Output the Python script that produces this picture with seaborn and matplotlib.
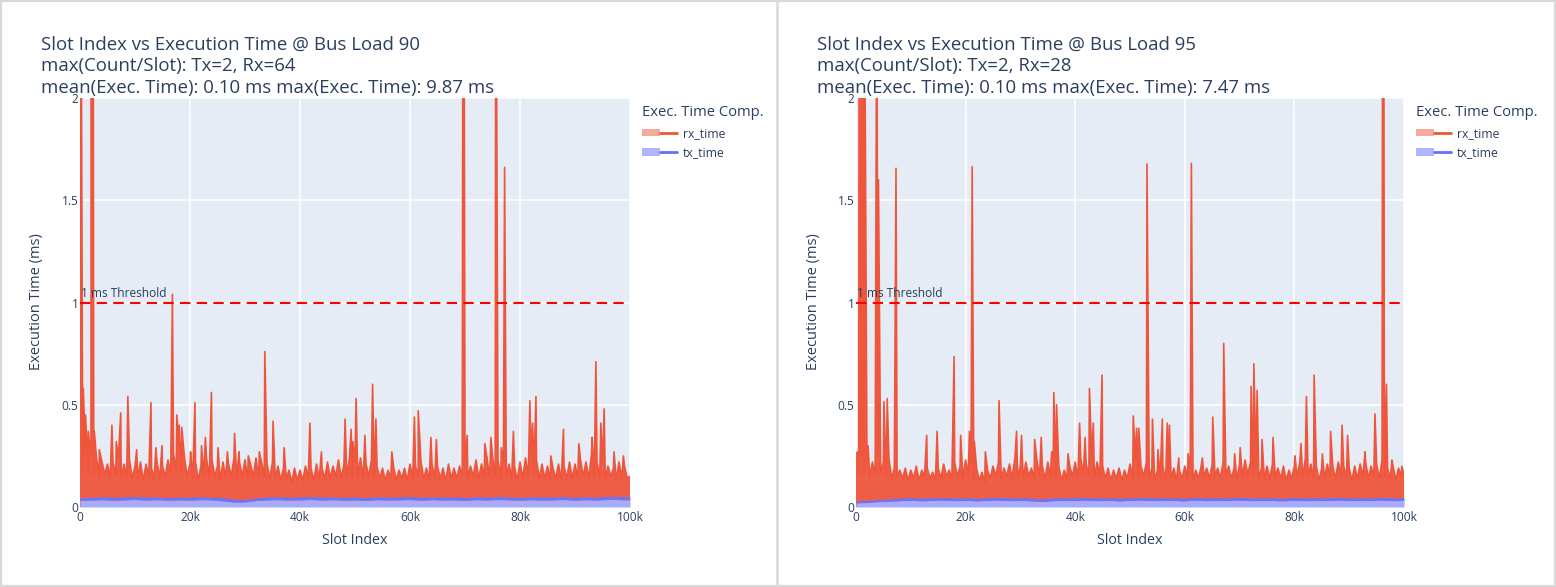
import numpy as np
import pandas as pd
import seaborn as sns
import matplotlib.pyplot as plt
from matplotlib.patches import Patch, Rectangle
from matplotlib.lines import Line2D
from matplotlib.legend_handler import HandlerTuple

# ---- data (stacked top of rx over tx, in ms) ----
# dense texture sampled every 500 slots
base_step = 500
base_bl90 = [
    0.30, 0.18, 0.26, 0.17, 0.25, 0.16, 0.24, 0.15, 0.22, 0.16,
    0.21, 0.14, 0.22, 0.15, 0.24, 0.14, 0.21, 0.15, 0.23, 0.14,
    0.20, 0.14, 0.22, 0.13, 0.21, 0.15, 0.19, 0.14, 0.22, 0.14,
    0.20, 0.15, 0.23, 0.16, 0.26, 0.18, 0.30, 0.17, 0.24, 0.15,
    0.21, 0.14, 0.22, 0.13, 0.20, 0.15, 0.24, 0.14, 0.23, 0.15,
    0.20, 0.13, 0.22, 0.14, 0.21, 0.15, 0.24, 0.14, 0.22, 0.15,
    0.23, 0.14, 0.21, 0.15, 0.24, 0.14, 0.22, 0.15, 0.21, 0.14,
    0.22, 0.14, 0.20, 0.13, 0.19, 0.14, 0.18, 0.12, 0.19, 0.13,
    0.18, 0.13, 0.20, 0.14, 0.19, 0.13, 0.21, 0.14, 0.19, 0.14,
    0.22, 0.14, 0.20, 0.15, 0.23, 0.14, 0.21, 0.15, 0.24, 0.14,
    0.22, 0.15, 0.24, 0.14, 0.21, 0.15, 0.23, 0.14, 0.20, 0.14,
    0.19, 0.13, 0.18, 0.14, 0.20, 0.13, 0.18, 0.14, 0.19, 0.13,
    0.21, 0.14, 0.20, 0.15, 0.22, 0.14, 0.19, 0.13, 0.21, 0.14,
    0.20, 0.14, 0.19, 0.13, 0.21, 0.14, 0.19, 0.14, 0.20, 0.15,
    0.22, 0.14, 0.20, 0.15, 0.23, 0.14, 0.21, 0.15, 0.24, 0.14,
    0.25, 0.15, 0.23, 0.14, 0.22, 0.15, 0.21, 0.14, 0.20, 0.13,
    0.22, 0.14, 0.24, 0.15, 0.26, 0.16, 0.23, 0.14, 0.21, 0.14,
    0.20, 0.13, 0.19, 0.14, 0.21, 0.13, 0.20, 0.14, 0.22, 0.14,
    0.21, 0.14, 0.23, 0.15, 0.22, 0.14, 0.26, 0.15, 0.22, 0.14,
    0.21, 0.14, 0.20, 0.15, 0.19, 0.13, 0.22, 0.14, 0.20, 0.14,
    0.15,
]
base_bl95 = [
    0.26, 0.16, 0.25, 0.17, 0.24, 0.15, 0.22, 0.16, 0.25, 0.17,
    0.22, 0.15, 0.24, 0.14, 0.19, 0.15, 0.18, 0.14, 0.19, 0.13,
    0.18, 0.14, 0.20, 0.13, 0.18, 0.15, 0.19, 0.14, 0.17, 0.13,
    0.19, 0.14, 0.21, 0.15, 0.18, 0.14, 0.22, 0.15, 0.20, 0.14,
    0.23, 0.16, 0.21, 0.14, 0.19, 0.13, 0.17, 0.12, 0.18, 0.14,
    0.20, 0.15, 0.22, 0.14, 0.19, 0.15, 0.21, 0.14, 0.24, 0.15,
    0.20, 0.14, 0.22, 0.15, 0.19, 0.14, 0.23, 0.15, 0.20, 0.14,
    0.22, 0.15, 0.24, 0.14, 0.20, 0.13, 0.18, 0.14, 0.20, 0.15,
    0.22, 0.14, 0.24, 0.16, 0.21, 0.15, 0.25, 0.14, 0.22, 0.15,
    0.20, 0.14, 0.19, 0.13, 0.18, 0.14, 0.19, 0.13, 0.18, 0.14,
    0.21, 0.15, 0.23, 0.14, 0.20, 0.15, 0.22, 0.14, 0.19, 0.13,
    0.18, 0.14, 0.20, 0.13, 0.17, 0.14, 0.19, 0.13, 0.18, 0.14,
    0.20, 0.14, 0.19, 0.13, 0.18, 0.14, 0.20, 0.15, 0.19, 0.14,
    0.21, 0.15, 0.19, 0.14, 0.22, 0.15, 0.20, 0.14, 0.19, 0.13,
    0.21, 0.15, 0.23, 0.16, 0.22, 0.15, 0.20, 0.14, 0.19, 0.14,
    0.20, 0.14, 0.21, 0.15, 0.19, 0.14, 0.20, 0.13, 0.18, 0.14,
    0.20, 0.15, 0.22, 0.14, 0.24, 0.15, 0.21, 0.14, 0.20, 0.13,
    0.19, 0.14, 0.21, 0.15, 0.20, 0.14, 0.22, 0.15, 0.20, 0.14,
    0.19, 0.13, 0.20, 0.14, 0.21, 0.15, 0.22, 0.14, 0.20, 0.15,
    0.21, 0.14, 0.23, 0.15, 0.19, 0.14, 0.20, 0.13, 0.19, 0.15,
    0.16,
]

# individual spikes (slot in k, stacked value in ms)
spike_k_bl90 = [0.2, 0.6, 1.0, 1.5, 2.1, 2.6, 3.5, 5.8, 6.6, 7.4, 8.7, 10.3, 12.9, 13.8,
                14.9, 16.8, 17.6, 18.0, 18.5, 20.1, 20.9, 22.1, 22.8, 23.9, 25.1, 26.8,
                28.1, 28.9, 30.6, 32.6, 33.6, 35.1, 37.1, 41.8, 43.9, 48.2, 49.3, 49.6,
                50.2, 51.8, 53.2, 53.8, 56.7, 60.8, 61.5, 63.8, 64.8, 69.7, 70.4, 73.6,
                74.7, 75.6, 76.6, 77.2, 78.8, 81.8, 82.3, 82.9, 85.6, 87.9, 90.7, 93.1,
                93.8, 94.7, 95.3, 97.1, 98.8]
spike_v_bl90 = [2.6, 0.58, 0.45, 0.37, 9.87, 0.37, 0.28, 0.40, 0.32, 0.46, 0.54, 0.28, 0.51, 0.29,
                0.30, 1.04, 0.45, 0.40, 0.39, 0.27, 0.51, 0.30, 0.34, 0.56, 0.29, 0.27,
                0.36, 0.27, 0.25, 0.27, 0.76, 0.42, 0.29, 0.41, 0.27, 0.43, 0.38, 0.32,
                0.53, 0.35, 0.60, 0.43, 0.27, 0.44, 0.47, 0.34, 0.33, 4.5, 0.35, 0.31,
                0.34, 3.2, 0.29, 1.66, 0.37, 0.52, 0.41, 0.54, 0.25, 0.38, 0.31, 0.34,
                0.71, 0.41, 0.48, 0.27, 0.25]

spike_k_bl95 = [0.3, 0.6, 0.8, 1.1, 1.6, 2.2, 3.8, 4.1, 5.1, 5.7, 7.3, 12.9, 14.8, 17.9,
                19.1, 20.7, 21.2, 21.6, 23.6, 26.1, 29.3, 30.2, 32.6, 33.8, 35.7, 36.1,
                36.6, 38.7, 40.8, 41.8, 42.6, 43.3, 44.9, 50.6, 51.2, 51.6, 53.1, 54.1,
                55.1, 55.9, 56.8, 57.2, 58.9, 60.6, 61.2, 63.2, 65.1, 67.1, 69.1, 70.1,
                72.1, 72.6, 73.2, 74.1, 76.1, 80.1, 81.2, 82.2, 83.6, 85.1, 86.6, 88.7,
                89.7, 92.9, 94.7, 96.2, 96.4, 96.8, 97.8, 99.6]
spike_v_bl95 = [0.27, 3.5, 0.58, 7.47, 2.4, 0.30, 2.8, 1.60, 0.515, 0.53, 1.656, 0.35, 0.37, 0.735,
                0.35, 0.37, 1.664, 0.32, 0.27, 0.52, 0.37, 0.35, 0.33, 0.34, 0.27, 0.56,
                0.50, 0.26, 0.41, 0.34, 0.58, 0.41, 0.645, 0.445, 0.385, 0.385, 1.677, 0.43,
                0.28, 0.43, 0.41, 0.40, 0.24, 0.26, 1.68, 0.24, 0.44, 0.80, 0.26, 0.29,
                0.59, 0.70, 0.57, 0.33, 0.34, 0.25, 0.31, 0.54, 0.645, 0.26, 0.37, 0.40,
                0.35, 0.27, 0.455, 5.2, 0.68, 0.60, 0.23, 0.20]

# tx_time band (lower / upper edge), sampled every 2000 slots
tx_step = 2000
tx_lo_bl90 = [0.032, 0.034, 0.036, 0.033, 0.035, 0.037, 0.034, 0.036, 0.033, 0.035, 0.034,
              0.036, 0.035, 0.030, 0.024, 0.025, 0.032, 0.035, 0.036, 0.034, 0.035, 0.037,
              0.034, 0.036, 0.033, 0.035, 0.032, 0.036, 0.034, 0.035, 0.037, 0.033, 0.036,
              0.034, 0.035, 0.032, 0.036, 0.034, 0.037, 0.035, 0.033, 0.036, 0.034, 0.035,
              0.037, 0.033, 0.036, 0.034, 0.038, 0.036, 0.035]
tx_hi_bl90 = [0.045, 0.048, 0.050, 0.047, 0.049, 0.051, 0.048, 0.050, 0.046, 0.049, 0.047,
              0.050, 0.048, 0.046, 0.038, 0.036, 0.045, 0.049, 0.050, 0.047, 0.049, 0.051,
              0.048, 0.050, 0.047, 0.049, 0.046, 0.050, 0.048, 0.049, 0.051, 0.047, 0.050,
              0.048, 0.049, 0.046, 0.050, 0.048, 0.051, 0.049, 0.047, 0.050, 0.048, 0.049,
              0.051, 0.047, 0.050, 0.048, 0.052, 0.050, 0.049]
tx_lo_bl95 = [0.020, 0.022, 0.026, 0.028, 0.031, 0.033, 0.030, 0.032, 0.034, 0.031, 0.033,
              0.030, 0.032, 0.034, 0.031, 0.033, 0.030, 0.027, 0.031, 0.033, 0.032, 0.034,
              0.031, 0.033, 0.030, 0.032, 0.034, 0.031, 0.033, 0.032, 0.030, 0.034, 0.031,
              0.033, 0.032, 0.034, 0.031, 0.033, 0.032, 0.030, 0.034, 0.031, 0.033, 0.032,
              0.034, 0.031, 0.033, 0.032, 0.034, 0.031, 0.033]
tx_hi_bl95 = [0.030, 0.032, 0.036, 0.040, 0.044, 0.046, 0.043, 0.045, 0.047, 0.044, 0.046,
              0.043, 0.045, 0.047, 0.044, 0.046, 0.043, 0.040, 0.044, 0.046, 0.045, 0.047,
              0.044, 0.046, 0.043, 0.045, 0.047, 0.044, 0.046, 0.045, 0.043, 0.047, 0.044,
              0.046, 0.045, 0.047, 0.044, 0.046, 0.045, 0.043, 0.047, 0.044, 0.046, 0.045,
              0.047, 0.044, 0.046, 0.045, 0.047, 0.044, 0.046]

titles = [
    ["Slot Index vs Execution Time @ Bus Load 90",
     "max(Count/Slot): Tx=2, Rx=64",
     "mean(Exec. Time): 0.10 ms max(Exec. Time): 9.87 ms"],
    ["Slot Index vs Execution Time @ Bus Load 95",
     "max(Count/Slot): Tx=2, Rx=28",
     "mean(Exec. Time): 0.10 ms max(Exec. Time): 7.47 ms"],
]
x_ticks = [0, 20000, 40000, 60000, 80000, 100000]
x_tick_labels = ["0", "20k", "40k", "60k", "80k", "100k"]
y_ticks = [0, 0.5, 1, 1.5, 2]
y_tick_labels = ["0", "0.5", "1", "1.5", "2"]

TEXT = "#2a3f5f"
RX = "#EF553B"
TX = "#636EFA"
W, H = 1556, 587

sns.set_theme(style="darkgrid", rc={
    "axes.facecolor": "#E5ECF6",
    "grid.color": "white",
    "grid.linewidth": 1.2,
    "axes.edgecolor": "#E5ECF6",
})
plt.rcParams["font.family"] = ["Open Sans", "DejaVu Sans"]


def build_rx(base, spike_k, spike_v):
    xs = list(np.arange(len(base)) * base_step) + [k * 1000 for k in spike_k]
    ys = list(base) + list(spike_v)
    df = pd.DataFrame({"slot": xs, "total": ys}).sort_values("slot", kind="stable")
    return df.reset_index(drop=True)


def draw_panel(fig, rect, base, spike_k, spike_v, tx_lo, tx_hi, lines, px_left):
    ax = fig.add_axes([rect[0] / W, (H - rect[1] - rect[3]) / H, rect[2] / W, rect[3] / H])
    rx = build_rx(base, spike_k, spike_v)

    ax.fill_between(rx["slot"], 0, rx["total"], color=RX, alpha=0.95, lw=0)
    sns.lineplot(data=rx, x="slot", y="total", ax=ax, color=RX, lw=1.2,
                 estimator=None, sort=False)

    tx_x = np.arange(len(tx_lo)) * tx_step
    ax.fill_between(tx_x, 0, tx_lo, color="#A6ACFB", lw=0)
    ax.fill_between(tx_x, tx_lo, tx_hi, color="#6A74F9", lw=0)

    ax.axhline(1, color="red", lw=1.5, ls=(0, (5, 3)))
    ax.annotate("1 ms Threshold", xy=(0, 1), xytext=(1, 2), textcoords="offset points",
                ha="left", va="bottom", fontsize=8.6, color=TEXT)

    ax.set_xlim(0, 100000)
    ax.set_ylim(0, 2)
    ax.set_xticks(x_ticks, x_tick_labels)
    ax.set_yticks(y_ticks, y_tick_labels)
    ax.tick_params(length=0, labelsize=8.6, labelcolor=TEXT)
    ax.tick_params(axis="y", pad=1)
    ax.tick_params(axis="x", pad=3)
    ax.set_xlabel("")
    ax.set_ylabel("")
    for s in ax.spines.values():
        s.set_visible(False)

    # titles, axis labels, legend in figure pixels
    for i, t in enumerate(lines):
        fig.text(px_left / W, 1 - (45 + i * 21.5) / H, t, fontsize=13.4, color=TEXT,
                 ha="left", va="center")
    fig.text((rect[0] - 43) / W, 1 - 302 / H, "Execution Time (ms)", rotation=90,
             fontsize=10.5, color=TEXT, ha="center", va="center")
    fig.text((rect[0] + rect[2] / 2) / W, 1 - 541 / H, "Slot Index",
             fontsize=10.3, color=TEXT, ha="center", va="center")

    handles = [
        (Patch(facecolor="#F6AA9D", edgecolor="none"), Line2D([], [], color=RX, lw=2)),
        (Patch(facecolor="#B1B6FC", edgecolor="none"), Line2D([], [], color=TX, lw=2)),
    ]
    leg = fig.legend(handles, ["rx_time", "tx_time"], title="Exec. Time Comp.",
                     loc="upper left",
                     bbox_to_anchor=((rect[0] + rect[2] + 12) / W, 1 - 105 / H),
                     frameon=False, fontsize=8.8, title_fontsize=10.6,
                     handler_map={tuple: HandlerTuple(ndivide=None)},
                     handlelength=2.9, handleheight=0.6, handletextpad=0.45,
                     labelspacing=0.55, alignment="left", borderaxespad=0, borderpad=0)
    leg.get_title().set_color(TEXT)
    for txt in leg.get_texts():
        txt.set_color(TEXT)
    return ax


fig = plt.figure(figsize=(W / 100, H / 100), dpi=100)
fig.patch.set_facecolor("white")

draw_panel(fig, (80, 98, 550, 409), base_bl90, spike_k_bl90, spike_v_bl90,
           tx_lo_bl90, tx_hi_bl90, titles[0], 41)
draw_panel(fig, (856, 98, 548, 409), base_bl95, spike_k_bl95, spike_v_bl95,
           tx_lo_bl95, tx_hi_bl95, titles[1], 817)

# panel frames
fig.add_artist(Rectangle((1 / W, 1 / H), (W - 2) / W, (H - 2) / H, transform=fig.transFigure,
                         fill=False, ec="#d9d9d9", lw=1.6))
fig.add_artist(Line2D([777 / W, 777 / W], [0, 1], transform=fig.transFigure,
                      color="#d9d9d9", lw=1.8))

fig.savefig("out.png", dpi=100)
